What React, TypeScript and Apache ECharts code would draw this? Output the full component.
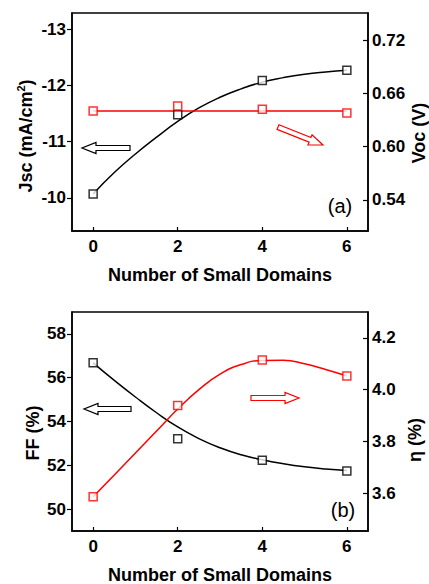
import React, { useEffect, useRef } from "react";
import * as echarts from "echarts";

// ---- data ----
const domains = [0, 2, 4, 6];
const xTicks = [0, 2, 4, 6];

// panel (a)
const jsc = [-10.07, -11.48, -12.09, -12.27];
const voc = [0.64, 0.6456, 0.642, 0.6378];
const fitX = [0, 0.5, 1, 1.5, 2, 2.5, 3, 3.5, 4, 4.5, 5, 5.5, 6];
const jscFit = [-10.07, -10.45, -10.78, -11.08, -11.36, -11.6, -11.79, -11.94, -12.06, -12.14, -12.2, -12.24, -12.27];
const vocFitX = [0, 6];
const vocFit = [0.64, 0.64];
const jscTicks = [-13, -12, -11, -10];
const vocTicks = [0.54, 0.6, 0.66, 0.72];

// panel (b)
const ff = [56.68, 53.21, 52.23, 51.74];
const eta = [3.586, 3.939, 4.115, 4.053];
const ffFit = [56.68, 55.88, 55.12, 54.4, 53.75, 53.22, 52.8, 52.48, 52.25, 52.07, 51.93, 51.83, 51.76];
const etaFit = [3.586, 3.67, 3.755, 3.84, 3.925, 4.0, 4.06, 4.097, 4.113, 4.114, 4.1, 4.078, 4.053];
const ffTicks = [50, 52, 54, 56, 58];
const etaTicks = [3.6, 3.8, 4.0, 4.2];

const FONT = "Liberation Sans, Arial, sans-serif";
const RED = "#ff0000";

function arrowPoints(tail: number[], tip: number[], sh: number, hh: number, hl: number) {
  const dx = tip[0] - tail[0];
  const dy = tip[1] - tail[1];
  const L = Math.hypot(dx, dy);
  const ux = dx / L, uy = dy / L;
  const nx = -uy, ny = ux;
  const bx = tip[0] - ux * hl, by = tip[1] - uy * hl;
  return [
    [tail[0] + nx * sh, tail[1] + ny * sh],
    [bx + nx * sh, by + ny * sh],
    [bx + nx * hh, by + ny * hh],
    [tip[0], tip[1]],
    [bx - nx * hh, by - ny * hh],
    [bx - nx * sh, by - ny * sh],
    [tail[0] - nx * sh, tail[1] - ny * sh],
  ];
}

function arrow(tail: number[], tip: number[], color: string) {
  return {
    type: "polygon",
    shape: { points: arrowPoints(tail, tip, 2.5, 5.5, 14) },
    style: { fill: "#fff", stroke: color, lineWidth: 1.2 },
    z: 100,
  };
}

function xAxisCfg(gridIndex: number) {
  return {
    type: "value",
    gridIndex,
    min: -0.5,
    max: 6.5,
    axisLine: { show: true, onZero: false, lineStyle: { color: "#000", width: 1.5 } },
    axisTick: { show: true, inside: true, length: 4, customValues: xTicks, lineStyle: { color: "#000", width: 1.2 } },
    axisLabel: { customValues: xTicks, margin: 7, color: "#000", fontSize: 17, fontWeight: "bold", fontFamily: FONT },
    splitLine: { show: false },
  };
}

function yAxisCfg(gridIndex: number, position: string, min: number, max: number, ticks: number[], inverse: boolean, digits: number, inside: boolean, margin: number) {
  return {
    type: "value",
    gridIndex,
    position,
    min,
    max,
    inverse,
    axisLine: { show: true, onZero: false, lineStyle: { color: "#000", width: 1.5 } },
    axisTick: { show: true, inside, length: 5, customValues: ticks, lineStyle: { color: "#000", width: 1.2 } },
    axisLabel: {
      customValues: ticks,
      margin,
      color: "#000",
      fontSize: 17,
      fontWeight: "bold",
      fontFamily: FONT,
      formatter: (v: number) => v.toFixed(digits),
    },
    splitLine: { show: false },
  };
}

const sq = (color: string) => ({
  symbol: "rect",
  symbolSize: 8,
  itemStyle: { color: "#fff", borderColor: color, borderWidth: 1.5 },
});

export default function App() {
  const ref = useRef<HTMLDivElement>(null);
  useEffect(() => {
    if (!ref.current) return;
    const chart = echarts.init(ref.current, undefined, { renderer: "svg" });
    const titleStyle = { fontSize: 18, fontWeight: "bold", fontFamily: FONT, fill: "#000", align: "center", verticalAlign: "middle" };
    chart.setOption({
      animation: false,
      backgroundColor: "#fff",
      grid: [
        { left: 72, top: 13, width: 296, height: 218, show: true, borderColor: "#000", borderWidth: 1.5, backgroundColor: "transparent" },
        { left: 72, top: 312, width: 296, height: 219, show: true, borderColor: "#000", borderWidth: 1.5, backgroundColor: "transparent" },
      ],
      xAxis: [xAxisCfg(0), xAxisCfg(1)],
      yAxis: [
        yAxisCfg(0, "left", -13.29, -9.41, jscTicks, true, 0, false, 6),
        yAxisCfg(0, "right", 0.505, 0.7504, vocTicks, false, 2, true, 4),
        yAxisCfg(1, "left", 49, 59, ffTicks, false, 0, false, 6),
        yAxisCfg(1, "right", 3.454, 4.3, etaTicks, false, 1, true, 4),
      ],
      series: [
        { type: "line", xAxisIndex: 0, yAxisIndex: 0, data: fitX.map((x, i) => [x, jscFit[i]]), smooth: 0.5, showSymbol: false, lineStyle: { color: "#000", width: 1.5 }, z: 2 },
        { type: "line", xAxisIndex: 0, yAxisIndex: 1, data: vocFitX.map((x, i) => [x, vocFit[i]]), showSymbol: false, lineStyle: { color: RED, width: 1.5 }, z: 2 },
        { type: "scatter", xAxisIndex: 0, yAxisIndex: 0, data: domains.map((x, i) => [x, jsc[i]]), ...sq("#000"), z: 3 },
        { type: "scatter", xAxisIndex: 0, yAxisIndex: 1, data: domains.map((x, i) => [x, voc[i]]), ...sq(RED), z: 4 },
        { type: "line", xAxisIndex: 1, yAxisIndex: 2, data: fitX.map((x, i) => [x, ffFit[i]]), smooth: 0.5, showSymbol: false, lineStyle: { color: "#000", width: 1.5 }, z: 2 },
        { type: "line", xAxisIndex: 1, yAxisIndex: 3, data: fitX.map((x, i) => [x, etaFit[i]]), smooth: 0.5, showSymbol: false, lineStyle: { color: RED, width: 1.5 }, z: 2 },
        { type: "scatter", xAxisIndex: 1, yAxisIndex: 2, data: domains.map((x, i) => [x, ff[i]]), ...sq("#000"), z: 3 },
        { type: "scatter", xAxisIndex: 1, yAxisIndex: 3, data: domains.map((x, i) => [x, eta[i]]), ...sq(RED), z: 4 },
      ],
      graphic: [
        {
          type: "text",
          x: 25,
          y: 136,
          rotation: Math.PI / 2,
          style: {
            text: "{a|Jsc (mA/cm}{s|2}{a|)}",
            align: "center",
            verticalAlign: "middle",
            rich: {
              a: { fontSize: 18, fontWeight: "bold", fontFamily: FONT, fill: "#000", lineHeight: 20, verticalAlign: "bottom" },
              s: { fontSize: 11, fontWeight: "bold", fontFamily: FONT, fill: "#000", lineHeight: 20, verticalAlign: "top", padding: [0, 0, 8, 0] },
            },
          },
        },
        { type: "text", x: 419, y: 133, rotation: Math.PI / 2, style: { text: "Voc (V)", ...titleStyle } },
        { type: "text", x: 33, y: 433, rotation: Math.PI / 2, style: { text: "FF (%)", ...titleStyle } },
        { type: "text", x: 415, y: 440, rotation: Math.PI / 2, style: { text: "η (%)", ...titleStyle } },
        { type: "text", x: 220, y: 275, style: { text: "Number of Small Domains", ...titleStyle } },
        { type: "text", x: 220, y: 575, style: { text: "Number of Small Domains", ...titleStyle } },
        { type: "text", x: 340, y: 206, style: { text: "(a)", fontSize: 20, fontFamily: FONT, fill: "#000", align: "center", verticalAlign: "middle" } },
        { type: "text", x: 343, y: 510, style: { text: "(b)", fontSize: 20, fontFamily: FONT, fill: "#000", align: "center", verticalAlign: "middle" } },
        arrow([130, 148], [82, 148], "#000"),
        arrow([278, 127], [323, 145], RED),
        arrow([131, 409], [84, 409], "#000"),
        arrow([251, 398], [299, 398], RED),
      ],
    });
    return () => chart.dispose();
  }, []);
  return <div ref={ref} style={{ position: "fixed", left: 0, top: 0, width: 429, height: 584 }} />;
}
